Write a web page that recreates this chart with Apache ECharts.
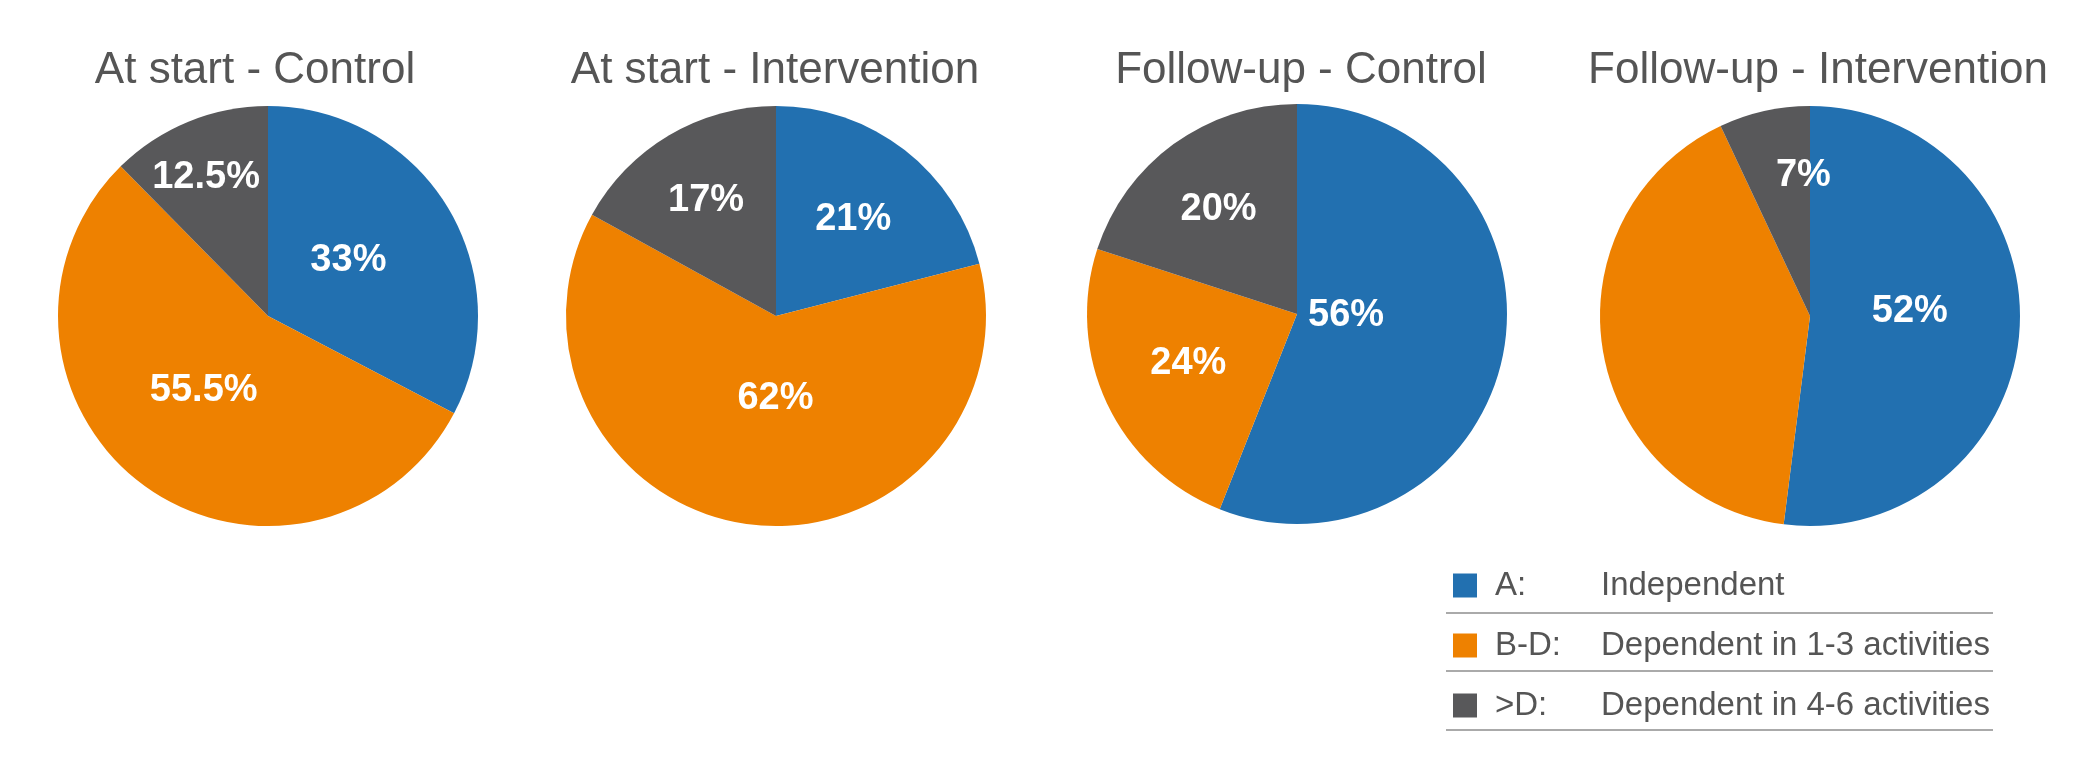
<!DOCTYPE html>
<html>
<head>
    <meta charset="utf-8">
    <script src="https://cdn.jsdelivr.net/npm/echarts@6/dist/echarts.min.js"></script>
    <style>
        body { margin: 0; background: #fff; }
    </style>
</head>
<body>
    <div id="main" style="width: 2093px;height:772px;"></div>
    <script type="text/javascript">
        // categories and descriptions
        var categories = ['A:', 'B-D:', '>D:'];
        var descriptions = ['Independent', 'Dependent in 1-3 activities', 'Dependent in 4-6 activities'];
        var colors = ['#2270b0', '#ee8100', '#58585a'];

        // chart titles
        var titles = ['At start - Control', 'At start - Intervention', 'Follow-up - Control', 'Follow-up - Intervention'];

        // shares (%) per chart, in order A, B-D, >D
        var startControl = [33, 55.5, 12.5];
        var startIntervention = [21, 62, 17];
        var followControl = [56, 24, 20];
        var followIntervention = [52, 41, 7];
        // which slices carry a label (the orange one in the last pie has none)
        var showLabel = [
            [true, true, true],
            [true, true, true],
            [true, true, true],
            [true, false, true]
        ];

        var allValues = [startControl, startIntervention, followControl, followIntervention];
        var centers = [[268, 316], [776, 316], [1297, 314], [1810, 316]];
        var titleX = [250, 770, 1296, 1813];
        // small nudges so the labels sit where the original has them
        var labelNudge = [
            [[-12, 0], [0, -12], [-21, -39]],
            [[11, -11], [13, -25], [-15, -23]],
            [[-57, -19], [-11, 4], [-15, -17]],
            [[-8, -11], [0, 0], [17, -35]]
        ];

        var myChart = echarts.init(document.getElementById('main'));

        var series = allValues.map(function (vals, i) {
            return {
                type: 'pie',
                center: centers[i],
                radius: 210,
                startAngle: 90,
                clockwise: true,
                silent: true,
                label: {
                    position: 'inside',
                    color: '#fff',
                    fontFamily: 'Liberation Sans',
                    fontWeight: 'bold',
                    fontSize: 38,
                    formatter: '{c}%'
                },
                labelLine: { show: false },
                itemStyle: { borderWidth: 0 },
                data: vals.map(function (v, j) {
                    return {
                        name: categories[j],
                        value: v,
                        itemStyle: { color: colors[j] },
                        label: { show: showLabel[i][j], offset: labelNudge[i][j] }
                    };
                })
            };
        });

        var option = {
            animation: false,
            title: titles.map(function (t, i) {
                return {
                    text: t,
                    left: titleX[i],
                    textAlign: 'center',
                    top: 44,
                    textStyle: {
                        fontFamily: 'Liberation Sans',
                        fontWeight: 'normal',
                        fontSize: 44,
                        color: '#555555'
                    }
                };
            }),
            legend: {
                orient: 'vertical',
                left: 1448,
                top: 564,
                itemWidth: 24,
                itemHeight: 24,
                itemGap: 27,
                icon: 'rect',
                selectedMode: false,
                data: categories,
                formatter: function (name) {
                    var i = categories.indexOf(name);
                    return '{k|' + name + '}{v|' + descriptions[i] + '}';
                },
                textStyle: {
                    fontFamily: 'Liberation Sans',
                    fontSize: 33,
                    color: '#555555',
                    rich: {
                        k: { width: 106, padding: [0, 0, 0, 13], fontSize: 33, color: '#555555' },
                        v: { fontSize: 33, color: '#555555' }
                    }
                }
            },
            graphic: [613, 671, 730].map(function (y) {
                return {
                    type: 'line',
                    shape: { x1: 1446, y1: y, x2: 1993, y2: y },
                    style: { stroke: '#aaaaaa', lineWidth: 2 }
                };
            }),
            series: series
        };

        myChart.setOption(option);
    </script>
</body>
</html>
